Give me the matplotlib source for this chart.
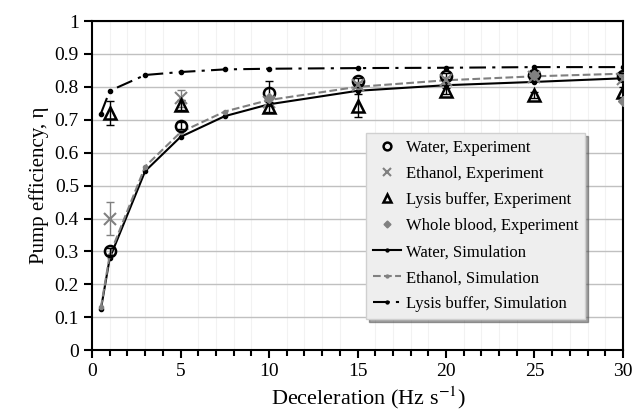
import matplotlib.pyplot as plt
from matplotlib.ticker import MultipleLocator

plt.rcParams['font.family'] = ['Liberation Serif', 'DejaVu Serif']
plt.rcParams['mathtext.fontset'] = 'stix'

# simulation curves
sim_x = [0.5, 1, 3, 5, 7.5, 10, 15, 20, 25, 30]
water_sim = [0.125, 0.28, 0.544, 0.648, 0.711, 0.747, 0.788, 0.805, 0.815, 0.826]
ethanol_sim = [0.13, 0.29, 0.558, 0.662, 0.725, 0.76, 0.80, 0.82, 0.832, 0.84]
lysis_sim = [0.719, 0.788, 0.836, 0.845, 0.853, 0.855, 0.857, 0.858, 0.86, 0.86]

# experiments
exp_x = [1, 5, 10, 15, 20, 25, 30]
water_exp = [0.30, 0.682, 0.782, 0.818, 0.833, 0.836, 0.833]
water_err = [0.01, 0.01, 0.036, 0.01, 0.01, 0.01, 0.01]
ethanol_exp = [0.40, 0.765, 0.755, 0.805, 0.82, 0.83, 0.825]
ethanol_err = [0.05, 0.025, 0.01, 0.01, 0.01, 0.01, 0.01]
lysis_exp = [0.72, 0.745, 0.74, 0.742, 0.788, 0.775, 0.785]
lysis_err = [0.037, 0.015, 0.015, 0.035, 0.01, 0.01, 0.015]
blood_x = [10, 25, 30]
blood_exp = [0.765, 0.836, 0.757]

fig = plt.figure(figsize=(6.35, 4.12), dpi=100)
ax = fig.add_axes([0.145, 0.150, 0.836, 0.799])

# error bars first, markers on top
ax.errorbar(exp_x, water_exp, yerr=water_err, fmt='none', ecolor='black',
            elinewidth=1, capsize=3, zorder=4)
ax.errorbar(exp_x, ethanol_exp, yerr=ethanol_err, fmt='none', ecolor='#808080',
            elinewidth=1, capsize=3, zorder=4)
ax.errorbar(exp_x, lysis_exp, yerr=lysis_err, fmt='none', ecolor='black',
            elinewidth=1, capsize=3, zorder=4)

h_sw, = ax.plot(sim_x, water_sim, '-', color='black', lw=1.5, marker='o', ms=3,
                label='Water, Simulation', zorder=3)
h_se, = ax.plot(sim_x, ethanol_sim, '--', color='#808080', lw=1.5, marker='o', ms=3,
                label='Ethanol, Simulation', zorder=3)
h_sl, = ax.plot(sim_x, lysis_sim, color='black', lw=1.5, marker='o', ms=3,
                dashes=[8, 3, 1.5, 3], label='Lysis buffer, Simulation', zorder=3)

h_ew, = ax.plot(exp_x, water_exp, 'o', mfc='none', mec='black', mew=1.8, ms=8,
                ls='none', label='Water, Experiment', zorder=5)
h_ee, = ax.plot(exp_x, ethanol_exp, 'x', mec='#808080', mew=1.5, ms=8,
                ls='none', label='Ethanol, Experiment', zorder=5)
h_el, = ax.plot(exp_x, lysis_exp, '^', mfc='none', mec='black', mew=1.8, ms=8,
                ls='none', label='Lysis buffer, Experiment', zorder=5)
h_eb, = ax.plot(blood_x, blood_exp, 'D', color='#808080', ms=5, ls='none',
                label='Whole blood, Experiment', zorder=5)

ax.set_xlim(0, 30)
ax.set_ylim(0, 1)
ax.xaxis.set_major_locator(MultipleLocator(5))
ax.xaxis.set_minor_locator(MultipleLocator(1))
ax.set_yticks([i / 10 for i in range(11)])
ax.set_yticklabels(['0', '0.1', '0.2', '0.3', '0.4', '0.5', '0.6', '0.7', '0.8', '0.9', '1'])
ax.grid(axis='y', which='major', color='#c0c0c0', lw=1)
ax.grid(axis='x', which='minor', color='#f2f2f2', lw=0.8)
ax.set_axisbelow(True)
ax.tick_params(which='both', direction='out', labelsize=14, width=1.5)
ax.tick_params(which='major', length=6)
ax.tick_params(which='minor', length=4)
for s in ax.spines.values():
    s.set_linewidth(1.5)

ax.set_xlabel('Deceleration (Hz s$^{-1}$)', fontsize=16)
ax.xaxis.set_label_coords(0.52, -0.105)
ax.set_ylabel('Pump efficiency, η', fontsize=15)

handles = [h_ew, h_ee, h_el, h_eb, h_sw, h_se, h_sl]
leg = ax.legend(handles=handles, loc='lower right', bbox_to_anchor=(0.945, 0.07),
                fontsize=12, frameon=True, fancybox=False, shadow=True,
                facecolor='#eeeeee', edgecolor='#d0d0d0', framealpha=1,
                handlelength=1.7, handletextpad=0.3, labelspacing=0.6,
                borderpad=0.4, markerscale=0.7)

fig.savefig('out.png', dpi=100)
